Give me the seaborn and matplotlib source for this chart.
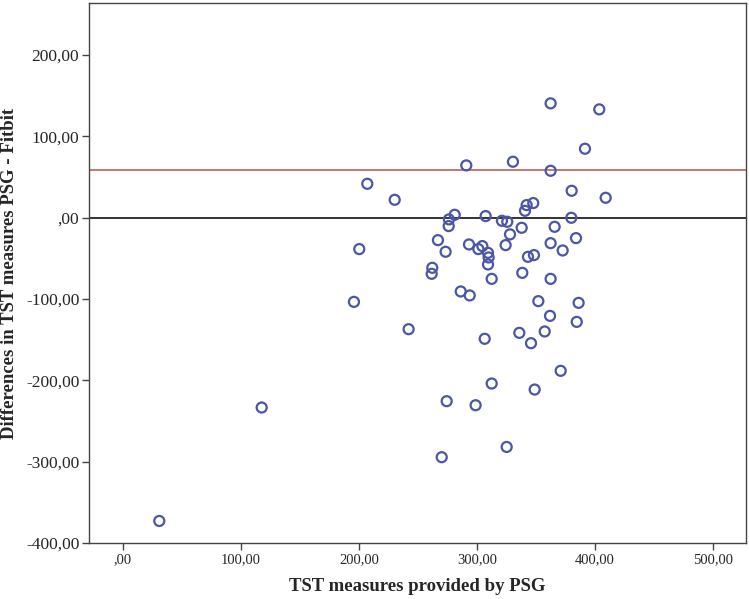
import matplotlib
matplotlib.use("Agg")
import matplotlib.pyplot as plt
import seaborn as sns
import pandas as pd

# TST measured by PSG (minutes)
psg_tst = [362.3, 403.5, 391.4, 290.9, 330.4, 362.3, 380.1, 408.9, 230.3, 342.0,
           347.6, 340.6, 281.1, 276.2, 276.0, 307.3, 321.1, 325.6, 379.8, 337.8,
           327.9, 365.7, 266.9, 383.8, 362.3, 293.2, 324.2, 304.5, 301.1, 372.5,
           273.4, 309.3, 309.8, 343.1, 348.2, 309.3, 262.1, 261.6, 338.3, 312.4,
           362.3, 286.2, 293.8, 351.9, 386.0, 361.8, 384.4, 242.1, 335.8, 357.3,
           345.7, 306.5, 370.8, 312.4, 348.8, 274.3, 298.8, 325.1, 270.1, 207.1,
           200.3, 195.8, 117.7, 31.0]
# Difference PSG - Fitbit (minutes)
diff_tst = [140.6, 133.2, 84.8, 64.3, 68.8, 57.7, 33.1, 24.5, 22.0, 15.5,
            18.0, 8.5, 3.6, -2.1, -10.3, 2.0, -3.8, -5.0, -0.1, -12.4,
            -20.5, -11.2, -27.6, -25.1, -31.3, -32.9, -33.7, -34.9, -38.6, -40.3,
            -41.9, -43.2, -48.9, -48.1, -46.0, -57.5, -61.6, -69.0, -67.8, -75.2,
            -75.2, -90.7, -95.6, -102.6, -104.7, -120.7, -128.1, -137.1, -141.6, -139.9,
            -154.3, -148.9, -188.3, -203.9, -211.3, -225.6, -230.6, -281.9, -294.5, 41.7,
            -38.6, -103.5, -233.4, -372.9]

ref_zero = 0.0
ref_line = 58.6

x_ticks = [0, 100, 200, 300, 400, 500]
x_tick_labels = [",00", "100,00", "200,00", "300,00", "400,00", "500,00"]
y_ticks = [-400, -300, -200, -100, 0, 100, 200]
y_tick_labels = ["-400,00", "-300,00", "-200,00", "-100,00", ",00", "100,00", "200,00"]

df = pd.DataFrame({"psg": psg_tst, "diff": diff_tst})

sns.set_style("white")
plt.rcParams["font.family"] = ["Liberation Serif", "DejaVu Serif"]

fig = plt.figure(figsize=(7.49, 5.99), dpi=100)
ax = fig.add_axes([89 / 749, 1 - 543 / 599, (746 - 89) / 749, (543 - 3) / 599])

ax.axhline(ref_zero, color="#333333", lw=1.4, zorder=1)
ax.axhline(ref_line, color="#b5524c", lw=1.1, zorder=1)

sns.scatterplot(data=df, x="psg", y="diff", ax=ax, marker="o", s=52,
                facecolors="none", edgecolor="#4a57a6", linewidth=1.6, zorder=3)

ax.set_xlim(-28.5, 527.7)
ax.set_ylim(-400, 264)
ax.set_xticks(x_ticks)
ax.set_xticklabels(x_tick_labels, fontsize=10.5)
ax.set_yticks(y_ticks)
ax.set_yticklabels(y_tick_labels, fontsize=12.5)
ax.tick_params(axis="both", direction="out", length=5, width=1, color="#444444",
               bottom=True, left=True, pad=2)

for sp in ax.spines.values():
    sp.set_color("#444444")
    sp.set_linewidth(1.0)

ax.set_xlabel("TST measures provided by PSG", fontsize=13.5, fontweight="bold", labelpad=9)
ax.set_ylabel("Differences in TST measures PSG - Fitbit", fontsize=13.5, fontweight="bold", labelpad=6)

fig.savefig("out.png", dpi=100)
